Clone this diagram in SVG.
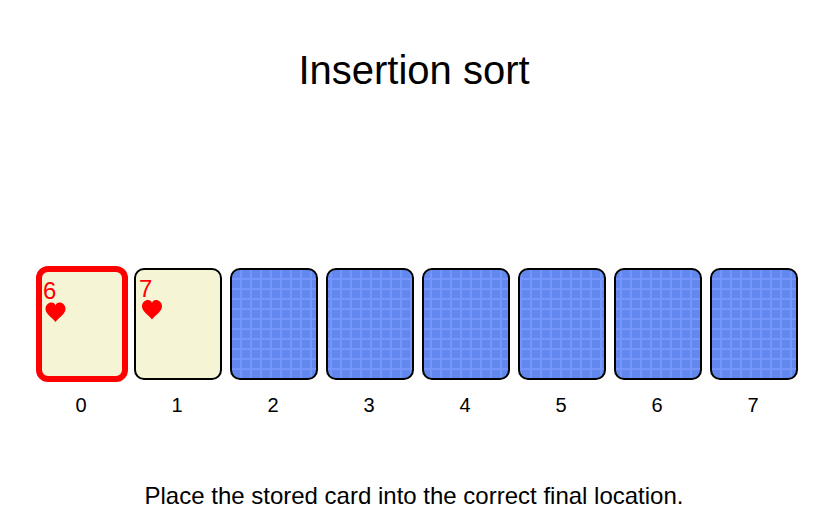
<svg xmlns="http://www.w3.org/2000/svg" width="832" height="524" viewBox="0 0 832 524">
<style>
text{font-family:"Liberation Sans",Arial,sans-serif;fill:#000}
.title{font-size:40px;text-anchor:middle}
.idx{font-size:20px;text-anchor:middle}
.msg{font-size:24px;text-anchor:middle}
.card{stroke:#000;stroke-width:2}
.face{fill:#f5f5d5}
.back{fill:url(#grid)}
.rank{font-size:24px;fill:#ff0000}
.suit{fill:#ff0000}
</style>
<defs>
<pattern id="grid" patternUnits="userSpaceOnUse" x="0" y="-2" width="10" height="10">
<rect width="10" height="10" fill="#6288f0"/>
<path d="M1 0V10M0 1H10" stroke="#7496fb" stroke-width="2" fill="none"/>
</pattern>
<path id="heart" d="M0 9.5C-2 6-10 2-10-3.5C-10-7.500-7-10-4-10C-2-10-.5-9 0-7C.5-9 2-10 4-10C7-10 10-7.500 10-3.500C10 2 2 6 0 9.500Z"/>
</defs>
<text class="title" x="414" y="84">Insertion sort</text>
<g id="connectors"/>
<g id="card-0"><rect class="face" x="39" y="269" width="86" height="110" rx="9" stroke="#ff0000" stroke-width="6"/><text class="rank" x="43" y="299">6</text><use href="#heart" class="suit" x="55.500" y="312.500"/><text class="idx" x="81" y="412">0</text></g>
<g id="card-1"><rect class="card face" x="135" y="269" width="86" height="110" rx="9"/><text class="rank" x="139" y="297">7</text><use href="#heart" class="suit" x="152" y="310"/><text class="idx" x="177" y="412">1</text></g>
<g id="card-2"><rect class="card back" x="231" y="269" width="86" height="110" rx="9"/><text class="idx" x="273" y="412">2</text></g>
<g id="card-3"><rect class="card back" x="327" y="269" width="86" height="110" rx="9"/><text class="idx" x="369" y="412">3</text></g>
<g id="card-4"><rect class="card back" x="423" y="269" width="86" height="110" rx="9"/><text class="idx" x="465" y="412">4</text></g>
<g id="card-5"><rect class="card back" x="519" y="269" width="86" height="110" rx="9"/><text class="idx" x="561" y="412">5</text></g>
<g id="card-6"><rect class="card back" x="615" y="269" width="86" height="110" rx="9"/><text class="idx" x="657" y="412">6</text></g>
<g id="card-7"><rect class="card back" x="711" y="269" width="86" height="110" rx="9"/><text class="idx" x="753" y="412">7</text></g>
<text class="msg" x="414" y="504">Place the stored card into the correct final location.</text>
</svg>
